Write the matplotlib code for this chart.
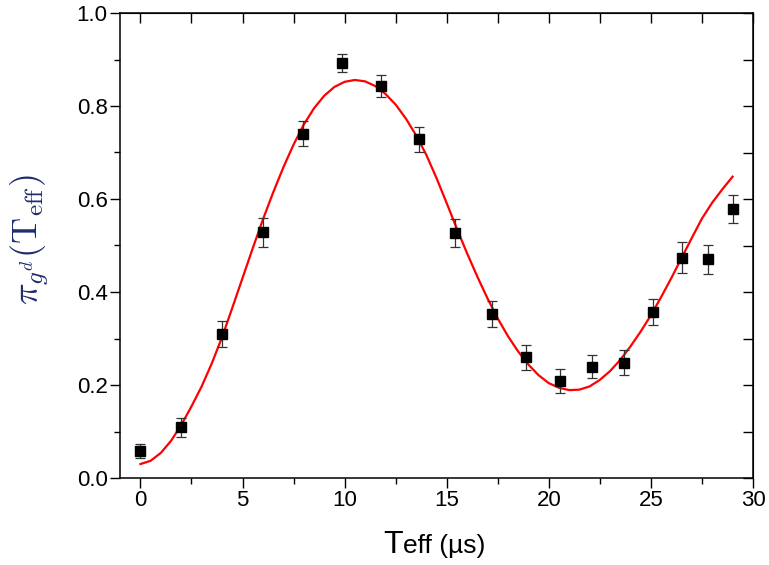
import matplotlib
matplotlib.use("Agg")
import matplotlib.pyplot as plt
from matplotlib.ticker import MultipleLocator

# measured data
t_data = [0.0, 2.0, 4.0, 6.0, 7.94, 9.88, 11.77, 13.64, 15.4, 17.2, 18.88,
          20.55, 22.13, 23.66, 25.1, 26.5, 27.8, 29.03]
p_data = [0.059, 0.109, 0.309, 0.528, 0.740, 0.892, 0.843, 0.728, 0.526,
          0.352, 0.260, 0.209, 0.239, 0.248, 0.358, 0.474, 0.470, 0.578]
p_err = [0.015, 0.020, 0.028, 0.032, 0.027, 0.019, 0.023, 0.027, 0.030,
         0.028, 0.027, 0.026, 0.025, 0.027, 0.028, 0.033, 0.031, 0.030]

# fit curve
t_fit = [0, 0.5, 1.0, 1.5, 2.0, 2.5, 3.0, 3.5, 4.0, 4.5, 5.0, 5.5, 6.0, 6.5,
         7.0, 7.5, 8.0, 8.5, 9.0, 9.5, 10.0, 10.5, 11.0, 11.5, 12.0, 12.5,
         13.0, 13.5, 14.0, 14.5, 15.0, 15.5, 16.0, 16.5, 17.0, 17.5, 18.0,
         18.5, 19.0, 19.5, 20.0, 20.5, 21.0, 21.5, 22.0, 22.5, 23.0, 23.5,
         24.0, 24.5, 25.0, 25.5, 26.0, 26.5, 27.0, 27.5, 28.0, 28.5, 29.0]
p_fit = [0.030, 0.037, 0.054, 0.080, 0.114, 0.154, 0.197, 0.247, 0.303,
         0.366, 0.430, 0.494, 0.556, 0.614, 0.668, 0.717, 0.760, 0.795,
         0.822, 0.841, 0.852, 0.856, 0.853, 0.843, 0.826, 0.803, 0.773,
         0.737, 0.695, 0.645, 0.591, 0.536, 0.483, 0.433, 0.386, 0.343,
         0.305, 0.272, 0.244, 0.221, 0.204, 0.194, 0.189, 0.190, 0.197,
         0.211, 0.230, 0.254, 0.283, 0.315, 0.350, 0.389, 0.430, 0.473,
         0.516, 0.558, 0.592, 0.621, 0.648]

x_ticks = [0, 5, 10, 15, 20, 25, 30]
y_ticks = [0.0, 0.2, 0.4, 0.6, 0.8, 1.0]

plt.rcParams['font.family'] = ['Liberation Sans', 'DejaVu Sans']
plt.rcParams['mathtext.fontset'] = 'cm'

fig = plt.figure(figsize=(7.69, 5.65), dpi=100)
ax = fig.add_axes([120/769, 87/565, 633/769, 465/565])

ax.plot(t_fit, p_fit, color='#ff0000', lw=1.6, zorder=2,
        solid_joinstyle='round')
ax.errorbar(t_data, p_data, yerr=p_err, fmt='s', color='black', ms=6.5,
            ecolor='#333333', elinewidth=0.9, capsize=3.6, capthick=0.9,
            zorder=3)

ax.set_xlim(-1, 30)
ax.set_ylim(0, 1.0)
ax.set_xticks(x_ticks)
ax.set_yticks(y_ticks)
ax.set_yticklabels([f"{v:.1f}" for v in y_ticks])
ax.xaxis.set_minor_locator(MultipleLocator(2.5))
ax.yaxis.set_minor_locator(MultipleLocator(0.1))

for s in ax.spines.values():
    s.set_linewidth(1.1)

ax.tick_params(which='major', direction='out', length=7, width=1.0,
               labelsize=16, pad=2)
ax.tick_params(which='minor', direction='out', length=4, width=1.0)

secx = ax.secondary_xaxis('top')
secx.set_xticks(x_ticks)
secx.xaxis.set_minor_locator(MultipleLocator(2.5))
secx.tick_params(which='both', direction='in', length=7, width=1.0,
                 labeltop=False)
secy = ax.secondary_yaxis('right')
secy.set_yticks(y_ticks)
secy.yaxis.set_minor_locator(MultipleLocator(0.1))
secy.tick_params(which='both', direction='in', length=7, width=1.0,
                 labelright=False)

fig.text(30/769, 1 - 240/565, r'$\pi_{g^d}(\mathrm{T}_{\mathrm{eff}})$',
         fontsize=26, color='#1f2d6e', rotation=90, ha='center',
         va='center')

# x label: large T followed by smaller "eff (µs)"
fig.text(383/769, 1 - 553/565, 'T', fontsize=23, ha='left', va='baseline')
fig.text(403/769, 1 - 553/565, 'eff (\u00b5s)', fontsize=19, ha='left',
         va='baseline')

fig.savefig('out.png', dpi=100)
